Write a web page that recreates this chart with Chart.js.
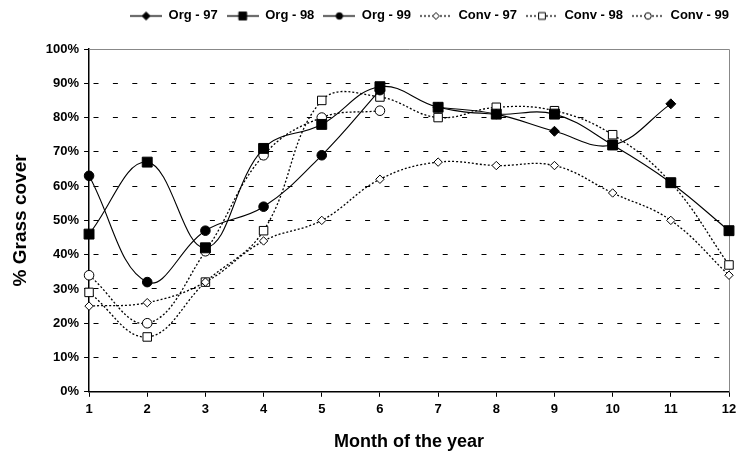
<!DOCTYPE html>
<html>
<head>
<meta charset="utf-8">
<script src="https://cdn.jsdelivr.net/npm/chart.js@4/dist/chart.umd.min.js"></script>
<style>
html,body{margin:0;padding:0;background:#fff;}
#wrap{width:738px;height:454px;position:relative;}
</style>
</head>
<body>
<div id="wrap"><canvas id="c" width="738" height="454"></canvas></div>
<script>
const months = ['1','2','3','4','5','6','7','8','9','10','11','12'];
const seriesNames = ['Org - 97','Org - 98','Org - 99','Conv - 97','Conv - 98','Conv - 99'];
const org97  = [null,null,null,null,null,null,83,81,76,72,84,null];
const org98  = [46,67,42,71,78,89,83,81,81,72,61,47];
const org99  = [63,32,47,54,69,88,null,null,null,null,null,null];
const conv97 = [25,26,32,44,50,62,67,66,66,58,50,34];
const conv98 = [29,16,32,47,85,86,80,83,82,75,61,37];
const conv99 = [34,20,41,69,80,82,null,null,null,null,null,null];
const yTicks = [0,10,20,30,40,50,60,70,80,90,100];

const FONT = "'Liberation Sans', Arial, Helvetica, sans-serif";
const styles = [
  {ps:'rectRot', r:5, fill:'#000', dash:[]},
  {ps:'rect', r:7, fill:'#000', dash:[]},
  {ps:'circle', r:4.8, fill:'#000', dash:[]},
  {ps:'rectRot', r:4.2, fill:'#fff', dash:[2,2]},
  {ps:'rect', r:6, fill:'#fff', dash:[2,2]},
  {ps:'circle', r:4.8, fill:'#fff', dash:[2,2]}
];
const values = [org97, org98, org99, conv97, conv98, conv99];

function makeIcon(st){
  const cv = document.createElement('canvas');
  cv.width = 32; cv.height = 12;
  const g = cv.getContext('2d');
  g.strokeStyle = '#000'; g.lineWidth = 1.3;
  g.setLineDash(st.dash.length ? [2,2] : []);
  g.beginPath(); g.moveTo(0,6.5); g.lineTo(32,6.5); g.stroke();
  g.setLineDash([]);
  g.fillStyle = st.fill; g.lineWidth = 1;
  const cx = 16, cy = 6.5, r = st.r * 0.8;
  g.beginPath();
  if (st.ps === 'rectRot') { g.moveTo(cx, cy-r); g.lineTo(cx+r, cy); g.lineTo(cx, cy+r); g.lineTo(cx-r, cy); g.closePath(); }
  else if (st.ps === 'rect') { const h = r*0.7; g.rect(cx-h, cy-h, 2*h, 2*h); }
  else { g.arc(cx, cy, r*0.85, 0, Math.PI*2); }
  g.fill(); g.stroke();
  return cv;
}
const icons = styles.map(makeIcon);

const datasets = values.map((v,i)=>({
  label: seriesNames[i],
  data: v,
  borderColor:'#000',
  borderWidth: i<3 ? 1.1 : 1.3,
  borderDash: styles[i].dash,
  backgroundColor: styles[i].fill,
  pointBackgroundColor: styles[i].fill,
  pointBorderColor:'#000',
  pointBorderWidth:1,
  pointStyle: styles[i].ps,
  pointRadius: styles[i].r,
  tension:0.4,
  spanGaps:false,
  fill:false
}));

const framePlugin = {
  id:'frame',
  beforeInit(chart){
    const lg = chart.legend;
    if (lg) {
      const fit = lg.fit.bind(lg);
      lg.fit = function(){ fit(); this.height += 17; };
    }
  },
  beforeDatasetsDraw(chart){
    const {ctx, chartArea:a} = chart;
    ctx.save();
    ctx.strokeStyle = '#888'; ctx.lineWidth = 1;
    ctx.beginPath();
    ctx.moveTo(a.left, a.top+0.5); ctx.lineTo(a.right+0.5, a.top+0.5);
    ctx.lineTo(a.right+0.5, a.bottom);
    ctx.stroke();
    ctx.restore();
  }
};

new Chart(document.getElementById('c'), {
  type:'line',
  data:{labels: months, datasets},
  options:{
    responsive:false,
    animation:false,
    events:[],
    layout:{padding:{left:9, right:0, top:0, bottom:1}},
    plugins:{
      legend:{
        display:true, position:'top', align:'end',
        labels:{
          usePointStyle:true, pointStyleWidth:32, boxHeight:12,
          padding:9,
          color:'#000',
          font:{family:FONT, size:13, weight:'bold'},
          generateLabels: chart => chart.data.datasets.map((ds,i)=>({
            text: ds.label, pointStyle: icons[i], datasetIndex:i, hidden:false,
            lineWidth:0, fillStyle:'#000', strokeStyle:'#000', fontColor:'#000'
          }))
        }
      },
      tooltip:{enabled:false},
      title:{display:false}
    },
    scales:{
      x:{
        type:'category',
        offset:false,
        afterFit(scale){ scale.paddingRight = 9; },
        grid:{display:true, drawOnChartArea:false, drawTicks:true, tickLength:5, color:'#000'},
        border:{display:true, color:'#000', width:1.5},
        ticks:{color:'#000', font:{family:FONT, size:13, weight:'bold'}, padding:5, maxRotation:0, autoSkip:false},
        title:{display:true, text:'Month of the year', color:'#000', font:{family:FONT, size:18, weight:'bold'}, padding:{top:9, bottom:0}}
      },
      y:{
        min:0, max:100,
        afterBuildTicks(scale){ scale.ticks = yTicks.map(v=>({value:v})); },
        grid:{display:true, drawOnChartArea:true, drawTicks:true, tickLength:5,
              color: c => (c.tick && c.tick.value === 0) ? 'rgba(0,0,0,0)' : '#000',
              tickColor:'#000', lineWidth:1},
        border:{display:true, color:'#000', width:1.5, dash:[5,14.4], dashOffset:-4},
        ticks:{color:'#000', font:{family:FONT, size:13, weight:'bold'}, padding:5, callback:v=>v+'%'},
        title:{display:true, text:'% Grass cover', color:'#000', font:{family:FONT, size:19, weight:'bold'}, padding:{top:0, bottom:9}}
      }
    }
  },
  plugins:[framePlugin]
});
</script>
</body>
</html>
